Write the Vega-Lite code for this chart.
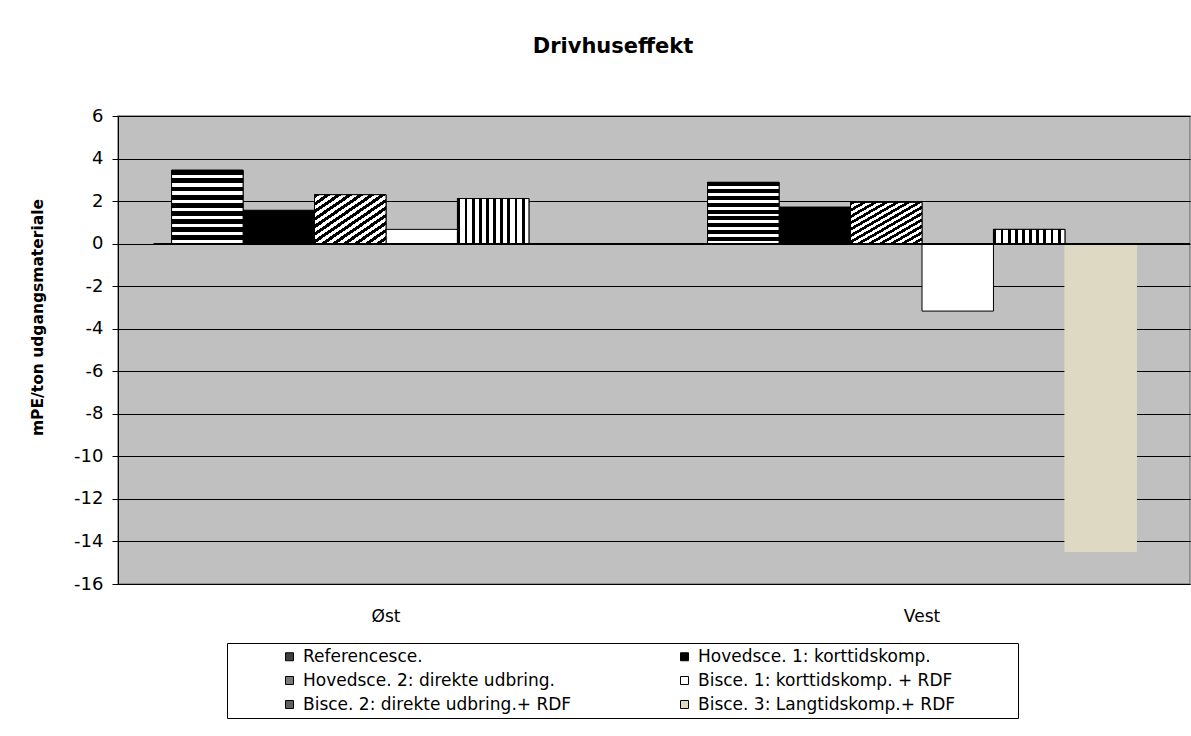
{
  "$schema": "https://vega.github.io/schema/vega-lite/v6.json",
  "width": 1072,
  "height": 468,
  "autosize": {"type": "none"},
  "padding": {"left": 118, "top": 116, "right": 1, "bottom": 152},
  "background": "white",
  "title": {"text": "Drivhuseffekt", "font": "DejaVu Sans", "fontSize": 21, "fontWeight": "bold", "color": "black", "dx": -41, "offset": 50},
  "config": {
    "view": {"fill": "#C0C0C0", "stroke": "#808080", "strokeWidth": 1.5},
    "axis": {"labelFont": "DejaVu Sans", "titleFont": "DejaVu Sans", "labelColor": "black", "titleColor": "black"}
  },
  "data": {"values": [
    {"region": "Øst", "scenario": "Referencesce.", "value": 3.45},
    {"region": "Øst", "scenario": "Hovedsce. 1: korttidskomp.", "value": 1.57},
    {"region": "Øst", "scenario": "Hovedsce. 2: direkte udbring.", "value": 2.3},
    {"region": "Øst", "scenario": "Bisce. 1: korttidskomp. + RDF", "value": 0.67},
    {"region": "Øst", "scenario": "Bisce. 2: direkte udbring.+ RDF", "value": 2.12},
    {"region": "Øst", "scenario": "Bisce. 3: Langtidskomp.+ RDF", "value": 0},
    {"region": "Vest", "scenario": "Referencesce.", "value": 2.88},
    {"region": "Vest", "scenario": "Hovedsce. 1: korttidskomp.", "value": 1.72},
    {"region": "Vest", "scenario": "Hovedsce. 2: direkte udbring.", "value": 1.94},
    {"region": "Vest", "scenario": "Bisce. 1: korttidskomp. + RDF", "value": -3.17},
    {"region": "Vest", "scenario": "Bisce. 2: direkte udbring.+ RDF", "value": 0.67},
    {"region": "Vest", "scenario": "Bisce. 3: Langtidskomp.+ RDF", "value": -14.47}
  ]},
  "encoding": {
    "x": {"field": "region", "type": "nominal", "sort": ["Øst", "Vest"],
      "scale": {"paddingInner": 0.2, "paddingOuter": 0.1},
      "axis": {"title": null, "labelAngle": 0, "domain": false, "ticks": false, "labelFontSize": 17, "labelPadding": 24}},
    "xOffset": {"field": "scenario", "type": "nominal",
      "sort": ["Referencesce.", "Hovedsce. 1: korttidskomp.", "Hovedsce. 2: direkte udbring.", "Bisce. 1: korttidskomp. + RDF", "Bisce. 2: direkte udbring.+ RDF", "Bisce. 3: Langtidskomp.+ RDF"],
      "scale": {"paddingInner": 0, "paddingOuter": 0}},
    "y": {"field": "value", "type": "quantitative",
      "scale": {"domain": [-16, 6], "nice": false, "zero": false},
      "axis": {"title": "mPE/ton udgangsmateriale", "titleFontSize": 15.5, "titleFontWeight": "bold", "titleX": -73, "titleY": 201,
        "values": [-16, -14, -12, -10, -8, -6, -4, -2, 0, 2, 4, 6],
        "labelExpr": "replace(datum.label, '\u2212', '-')",
        "labelFontSize": 18, "labelPadding": 9, "tickSize": 6, "tickColor": "black", "domainColor": "black",
        "grid": true, "gridColor": "black", "gridOpacity": 1, "gridWidth": 1}}
  },
  "layer": [
    {
      "mark": {"type": "bar", "strokeWidth": 1},
      "encoding": {
        "fill": {"field": "scenario", "type": "nominal",
          "sort": ["Referencesce.", "Hovedsce. 1: korttidskomp.", "Hovedsce. 2: direkte udbring.", "Bisce. 1: korttidskomp. + RDF", "Bisce. 2: direkte udbring.+ RDF", "Bisce. 3: Langtidskomp.+ RDF"],
          "scale": {"range": ["#404040", "#000000", "#7a7a7a", "#FFFFFF", "#606060", "#DDD9C3"]},
          "legend": {"orient": "none", "legendX": 109, "legendY": 527, "direction": "horizontal", "columns": 2,
            "title": "\u00a0", "titleOrient": "right", "titlePadding": 58, "titleFontSize": 8,
            "strokeColor": "black", "fillColor": "white", "padding": 5, "rowPadding": 6, "columnPadding": 55,
            "symbolType": "square", "symbolSize": 64, "symbolOffset": 49, "labelOffset": 5,
            "labelFont": "DejaVu Sans", "labelFontSize": 17, "labelColor": "black", "labelLimit": 400,
            "symbolStrokeColor": "black", "symbolStrokeWidth": 1}},
        "stroke": {"field": "scenario", "type": "nominal",
          "sort": ["Referencesce.", "Hovedsce. 1: korttidskomp.", "Hovedsce. 2: direkte udbring.", "Bisce. 1: korttidskomp. + RDF", "Bisce. 2: direkte udbring.+ RDF", "Bisce. 3: Langtidskomp.+ RDF"],
          "scale": {"range": ["#000000", "#000000", "#000000", "#000000", "#000000", "#DDD9C3"]},
          "legend": null}
      }
    },
    {
      "transform": [{"filter": "datum.scenario === 'Referencesce.'"}],
      "mark": {"type": "bar", "stroke": "black", "strokeWidth": 1, "fill": {"gradient": "linear", "x1": 0, "y1": 0, "x2": 0, "y2": 1, "stops": [
        {"offset": 0, "color": "#000"}, {"offset": 0.0667, "color": "#000"}, {"offset": 0.0667, "color": "#fff"}, {"offset": 0.1111, "color": "#fff"},
        {"offset": 0.1111, "color": "#000"}, {"offset": 0.1778, "color": "#000"}, {"offset": 0.1778, "color": "#fff"}, {"offset": 0.2222, "color": "#fff"},
        {"offset": 0.2222, "color": "#000"}, {"offset": 0.2889, "color": "#000"}, {"offset": 0.2889, "color": "#fff"}, {"offset": 0.3333, "color": "#fff"},
        {"offset": 0.3333, "color": "#000"}, {"offset": 0.4, "color": "#000"}, {"offset": 0.4, "color": "#fff"}, {"offset": 0.4444, "color": "#fff"},
        {"offset": 0.4444, "color": "#000"}, {"offset": 0.5111, "color": "#000"}, {"offset": 0.5111, "color": "#fff"}, {"offset": 0.5556, "color": "#fff"},
        {"offset": 0.5556, "color": "#000"}, {"offset": 0.6222, "color": "#000"}, {"offset": 0.6222, "color": "#fff"}, {"offset": 0.6667, "color": "#fff"},
        {"offset": 0.6667, "color": "#000"}, {"offset": 0.7333, "color": "#000"}, {"offset": 0.7333, "color": "#fff"}, {"offset": 0.7778, "color": "#fff"},
        {"offset": 0.7778, "color": "#000"}, {"offset": 0.8444, "color": "#000"}, {"offset": 0.8444, "color": "#fff"}, {"offset": 0.8889, "color": "#fff"},
        {"offset": 0.8889, "color": "#000"}, {"offset": 0.9556, "color": "#000"}, {"offset": 0.9556, "color": "#fff"}, {"offset": 1, "color": "#fff"}
      ]}},
      "encoding": {}
    },
    {
      "transform": [{"filter": "datum.scenario === 'Hovedsce. 2: direkte udbring.'"}],
      "mark": {"type": "bar", "stroke": "black", "strokeWidth": 1, "fill": {"gradient": "linear", "x1": 0, "y1": 0, "x2": 1, "y2": 1, "stops": [
        {"offset": 0, "color": "#000"}, {"offset": 0.0385, "color": "#000"}, {"offset": 0.0385, "color": "#fff"}, {"offset": 0.0769, "color": "#fff"},
        {"offset": 0.0769, "color": "#000"}, {"offset": 0.1154, "color": "#000"}, {"offset": 0.1154, "color": "#fff"}, {"offset": 0.1538, "color": "#fff"},
        {"offset": 0.1538, "color": "#000"}, {"offset": 0.1923, "color": "#000"}, {"offset": 0.1923, "color": "#fff"}, {"offset": 0.2308, "color": "#fff"},
        {"offset": 0.2308, "color": "#000"}, {"offset": 0.2692, "color": "#000"}, {"offset": 0.2692, "color": "#fff"}, {"offset": 0.3077, "color": "#fff"},
        {"offset": 0.3077, "color": "#000"}, {"offset": 0.3462, "color": "#000"}, {"offset": 0.3462, "color": "#fff"}, {"offset": 0.3846, "color": "#fff"},
        {"offset": 0.3846, "color": "#000"}, {"offset": 0.4231, "color": "#000"}, {"offset": 0.4231, "color": "#fff"}, {"offset": 0.4615, "color": "#fff"},
        {"offset": 0.4615, "color": "#000"}, {"offset": 0.5, "color": "#000"}, {"offset": 0.5, "color": "#fff"}, {"offset": 0.5385, "color": "#fff"},
        {"offset": 0.5385, "color": "#000"}, {"offset": 0.5769, "color": "#000"}, {"offset": 0.5769, "color": "#fff"}, {"offset": 0.6154, "color": "#fff"},
        {"offset": 0.6154, "color": "#000"}, {"offset": 0.6538, "color": "#000"}, {"offset": 0.6538, "color": "#fff"}, {"offset": 0.6923, "color": "#fff"},
        {"offset": 0.6923, "color": "#000"}, {"offset": 0.7308, "color": "#000"}, {"offset": 0.7308, "color": "#fff"}, {"offset": 0.7692, "color": "#fff"},
        {"offset": 0.7692, "color": "#000"}, {"offset": 0.8077, "color": "#000"}, {"offset": 0.8077, "color": "#fff"}, {"offset": 0.8462, "color": "#fff"},
        {"offset": 0.8462, "color": "#000"}, {"offset": 0.8846, "color": "#000"}, {"offset": 0.8846, "color": "#fff"}, {"offset": 0.9231, "color": "#fff"},
        {"offset": 0.9231, "color": "#000"}, {"offset": 0.9615, "color": "#000"}, {"offset": 0.9615, "color": "#fff"}, {"offset": 1, "color": "#fff"}
      ]}},
      "encoding": {}
    },
    {
      "transform": [{"filter": "datum.scenario === 'Bisce. 2: direkte udbring.+ RDF'"}],
      "mark": {"type": "bar", "stroke": "black", "strokeWidth": 1, "fill": {"gradient": "linear", "x1": 0, "y1": 0, "x2": 1, "y2": 0, "stops": [
        {"offset": 0, "color": "#000"}, {"offset": 0.04, "color": "#000"}, {"offset": 0.04, "color": "#fff"}, {"offset": 0.1, "color": "#fff"},
        {"offset": 0.1, "color": "#000"}, {"offset": 0.14, "color": "#000"}, {"offset": 0.14, "color": "#fff"}, {"offset": 0.2, "color": "#fff"},
        {"offset": 0.2, "color": "#000"}, {"offset": 0.24, "color": "#000"}, {"offset": 0.24, "color": "#fff"}, {"offset": 0.3, "color": "#fff"},
        {"offset": 0.3, "color": "#000"}, {"offset": 0.34, "color": "#000"}, {"offset": 0.34, "color": "#fff"}, {"offset": 0.4, "color": "#fff"},
        {"offset": 0.4, "color": "#000"}, {"offset": 0.44, "color": "#000"}, {"offset": 0.44, "color": "#fff"}, {"offset": 0.5, "color": "#fff"},
        {"offset": 0.5, "color": "#000"}, {"offset": 0.54, "color": "#000"}, {"offset": 0.54, "color": "#fff"}, {"offset": 0.6, "color": "#fff"},
        {"offset": 0.6, "color": "#000"}, {"offset": 0.64, "color": "#000"}, {"offset": 0.64, "color": "#fff"}, {"offset": 0.7, "color": "#fff"},
        {"offset": 0.7, "color": "#000"}, {"offset": 0.74, "color": "#000"}, {"offset": 0.74, "color": "#fff"}, {"offset": 0.8, "color": "#fff"},
        {"offset": 0.8, "color": "#000"}, {"offset": 0.84, "color": "#000"}, {"offset": 0.84, "color": "#fff"}, {"offset": 0.9, "color": "#fff"},
        {"offset": 0.9, "color": "#000"}, {"offset": 0.94, "color": "#000"}, {"offset": 0.94, "color": "#fff"}, {"offset": 1, "color": "#fff"}
      ]}},
      "encoding": {}
    },
    {
      "mark": {"type": "rule", "color": "black", "strokeWidth": 1.5},
      "encoding": {"y": {"datum": 0, "type": "quantitative"}, "x": {"value": 0}, "x2": {"value": 1072}}
    }
  ]
}
